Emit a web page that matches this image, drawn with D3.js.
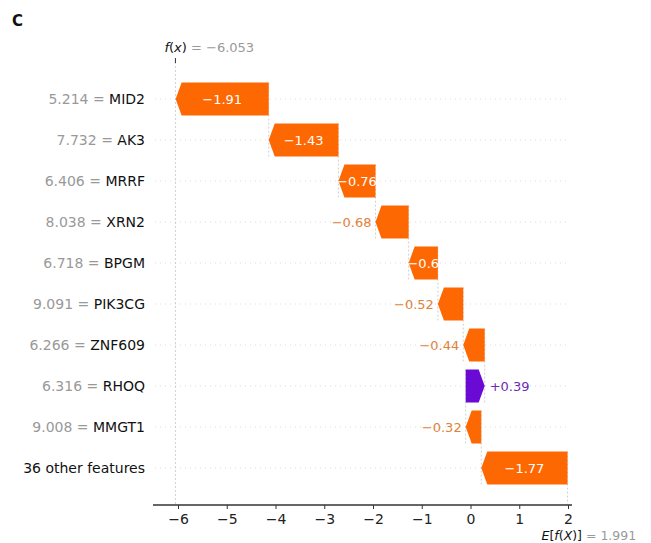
<!DOCTYPE html>
<html>
<head>
<meta charset="utf-8">
<script src="https://cdn.jsdelivr.net/npm/d3@7"></script>
<style>
  body { margin: 0; background: #fff; }
  text { font-family: 'DejaVu Sans', sans-serif; }
</style>
</head>
<body>
<div id="chart"></div>
<script>
// waterfall data, top row first
const featureValues = ['5.214', '7.732', '6.406', '8.038', '6.718', '9.091', '6.266', '6.316', '9.008', null]
const featureNames = ['MID2', 'AK3', 'MRRF', 'XRN2', 'BPGM', 'PIK3CG', 'ZNF609', 'RHOQ', 'MMGT1', '36 other features']
const shapValues = [-1.91, -1.43, -0.76, -0.68, -0.6, -0.52, -0.44, 0.39, -0.32, -1.77]
const baseValue = 1.991
const fxValue = -6.053
const xTicks = [-6, -5, -4, -3, -2, -1, 0, 1, 2]

const width = 651
const height = 543

const negColor = '#fd6802'
const posColor = '#6a0ad4'
const negText = '#e0823a'
const posText = '#6b2cb8'

const svg = d3
  .select('#chart')
  .append('svg')
  .attr('width', width)
  .attr('height', height)

const xPositionScale = d3
  .scaleLinear()
  .domain([-6.513, 2.082])
  .range([153, 572])

const yPositionScale = d3
  .scaleBand()
  .domain(featureNames)
  .range([78.5, 488.5])
  .paddingInner(0.2)
  .paddingOuter(0.1)

const axisY = 505
const barH = yPositionScale.bandwidth()
const step = yPositionScale.step()
const headLen = 6

// build start/end from the bottom up
const rows = []
let running = baseValue
for (let i = featureNames.length - 1; i >= 0; i--) {
  const start = running
  const end = running + shapValues[i]
  rows[i] = { name: featureNames[i], fv: featureValues[i], v: shapValues[i], start: start, end: end }
  running = end
}

function fmt(v) {
  let s = Math.abs(v).toFixed(2).replace(/0+$/, '').replace(/\.$/, '')
  return (v < 0 ? '\u2212' : '+') + s
}

function yc(d) {
  return yPositionScale(d.name) + barH / 2
}

// horizontal grid lines
svg
  .selectAll('.hgrid')
  .data(rows)
  .enter()
  .append('line')
  .attr('class', 'hgrid')
  .attr('x1', 155)
  .attr('x2', 570)
  .attr('y1', yc)
  .attr('y2', yc)
  .attr('stroke', '#cccccc')
  .attr('stroke-width', 0.7)
  .attr('stroke-dasharray', '1,4')

// f(x) vertical line
svg
  .append('line')
  .attr('x1', xPositionScale(fxValue))
  .attr('x2', xPositionScale(fxValue))
  .attr('y1', 62)
  .attr('y2', axisY)
  .attr('stroke', '#bbbbbb')
  .attr('stroke-width', 0.7)
  .attr('stroke-dasharray', '2,2')

// connectors at each bar start
svg
  .selectAll('.conn')
  .data(rows)
  .enter()
  .append('line')
  .attr('class', 'conn')
  .attr('x1', d => xPositionScale(d.start))
  .attr('x2', d => xPositionScale(d.start))
  .attr('y1', d => yPositionScale(d.name))
  .attr('y2', function(d, i) {
    if (i === rows.length - 1) return axisY
    return yPositionScale(d.name) + step + barH
  })
  .attr('stroke', '#bbbbbb')
  .attr('stroke-width', 0.7)
  .attr('stroke-dasharray', '2,2')

// arrow bars
svg
  .selectAll('.bar')
  .data(rows)
  .enter()
  .append('path')
  .attr('class', 'bar')
  .attr('d', function(d) {
    const xs = xPositionScale(d.start)
    const xe = xPositionScale(d.end)
    const top = yPositionScale(d.name)
    const bot = top + barH
    const mid = top + barH / 2
    const dir = xe < xs ? 1 : -1
    const hl = Math.min(headLen, Math.abs(xe - xs))
    return 'M' + xs + ',' + top +
      'L' + (xe + dir * hl) + ',' + top +
      'L' + xe + ',' + mid +
      'L' + (xe + dir * hl) + ',' + bot +
      'L' + xs + ',' + bot + 'Z'
  })
  .attr('fill', d => (d.v < 0 ? negColor : posColor))

// value labels
svg
  .selectAll('.vlab')
  .data(rows)
  .enter()
  .append('text')
  .attr('class', 'vlab')
  .text(d => fmt(d.v))
  .attr('font-size', 13)
  .attr('y', d => yc(d) + 4.5)
  .each(function(d) {
    const t = d3.select(this)
    const xs = xPositionScale(d.start)
    const xe = xPositionScale(d.end)
    const w = Math.abs(xe - xs)
    const tw = this.getComputedTextLength()
    if (tw < w + 4) {
      t.attr('x', (xs + xe) / 2).attr('text-anchor', 'middle').attr('fill', '#ffffff')
    } else if (d.v < 0) {
      t.attr('x', xe - 4).attr('text-anchor', 'end').attr('fill', negText)
    } else {
      t.attr('x', xe + 5).attr('text-anchor', 'start').attr('fill', posText)
    }
  })

// y labels
const ylab = svg
  .selectAll('.ylab')
  .data(rows)
  .enter()
  .append('text')
  .attr('class', 'ylab')
  .attr('x', 145)
  .attr('y', d => yc(d) + 5)
  .attr('text-anchor', 'end')
  .attr('font-size', 14)

ylab
  .filter(d => d.fv !== null)
  .append('tspan')
  .attr('fill', '#999999')
  .text(d => d.fv + ' = ')

ylab
  .append('tspan')
  .attr('fill', '#111111')
  .text(d => d.name)

// bottom axis
const xAxis = d3
  .axisBottom(xPositionScale)
  .tickValues(xTicks)
  .tickSize(4)
  .tickFormat(d => (d < 0 ? '\u2212' + Math.abs(d) : d))

svg
  .append('g')
  .attr('class', 'axis x-axis')
  .attr('transform', 'translate(0,' + axisY + ')')
  .call(xAxis)
  .call(g => g.select('.domain').attr('d', 'M153,0H572').attr('stroke', '#333').attr('stroke-width', 1.3))
  .call(g => g.selectAll('.tick line').attr('stroke', '#333'))
  .call(g =>
    g
      .selectAll('.tick text')
      .attr('font-family', 'DejaVu Sans')
      .attr('font-size', 14)
      .attr('fill', '#222')
      .attr('dy', '0.88em')
  )

// f(x) label on top
svg
  .append('line')
  .attr('x1', xPositionScale(fxValue))
  .attr('x2', xPositionScale(fxValue))
  .attr('y1', 58)
  .attr('y2', 63)
  .attr('stroke', '#333')
  .attr('stroke-width', 1)

const fxLab = svg
  .append('text')
  .attr('x', xPositionScale(fxValue) - 11)
  .attr('y', 52)
  .attr('font-size', 13)

fxLab.append('tspan').attr('font-style', 'italic').attr('fill', '#111').text('f')
fxLab.append('tspan').attr('fill', '#111').text('(')
fxLab.append('tspan').attr('font-style', 'italic').attr('fill', '#111').text('x')
fxLab.append('tspan').attr('fill', '#111').text(')')
fxLab.append('tspan').attr('fill', '#999').text(' = \u2212' + Math.abs(fxValue).toFixed(3))

// E[f(X)] label at bottom
const eLab = svg
  .append('text')
  .attr('x', xPositionScale(baseValue) - 26)
  .attr('y', 540)
  .attr('font-size', 12.5)

eLab.append('tspan').attr('font-style', 'italic').attr('fill', '#111').text('E')
eLab.append('tspan').attr('fill', '#111').text('[')
eLab.append('tspan').attr('font-style', 'italic').attr('fill', '#111').text('f')
eLab.append('tspan').attr('fill', '#111').text('(')
eLab.append('tspan').attr('font-style', 'italic').attr('fill', '#111').text('X')
eLab.append('tspan').attr('fill', '#111').text(')]')
eLab.append('tspan').attr('fill', '#999').text(' = ' + baseValue.toFixed(3))

// panel letter
svg
  .append('text')
  .attr('x', 12)
  .attr('y', 26)
  .attr('font-family', 'Liberation Sans, Arial, sans-serif')
  .attr('font-weight', 700)
  .attr('font-size', 15)
  .attr('fill', '#111')
  .text('C')
</script>
</body>
</html>
